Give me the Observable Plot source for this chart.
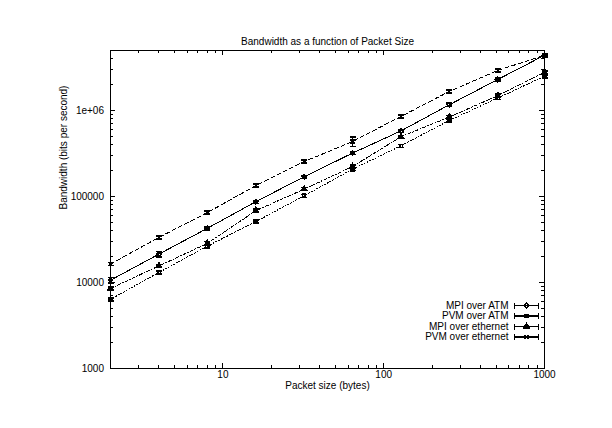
<!DOCTYPE html>
<html><head><meta charset="utf-8">
<script src="https://cdn.jsdelivr.net/npm/d3@7"></script>
<script src="https://cdn.jsdelivr.net/npm/@observablehq/plot@0.6"></script>
<style>body{margin:0;background:#fff} svg{shape-rendering:crispEdges}</style>
</head><body><div id="chart"></div>
<script>
// ---- data ----
const sizes = [2, 4, 8, 16, 32, 64, 128, 256, 512, 1000];
const seriesNames = ["MPI over ATM", "PVM over ATM", "MPI over ethernet", "PVM over ethernet"];
const mpiAtm = [10650, 21400, 42700, 87000, 170000, 320000, 580000, 1170000, 2300000, 4400000];
const pvmAtm = [6380, 13100, 26500, 51000, 102000, 208000, 389000, 769000, 1400000, 2510000];
const mpiEth = [8510, 15600, 28500, 68500, 122000, 223000, 496000, 841000, 1490000, 2790000];
const pvmEth = [16400, 33500, 65000, 134000, 255000, 437000, 855000, 1670000, 2930000, 4400000];
// relative error (half-range) of each point
const mpiAtmErr = [0.07, 0.07, 0.04, 0.04, 0.04, 0.04, 0.04, 0.05, 0.04, 0.04];
const pvmAtmErr = [0.04, 0.04, 0.05, 0.04, 0.04, 0.04, 0.04, 0.04, 0.04, 0.04];
const mpiEthErr = [0.04, 0.04, 0.05, 0.04, 0.04, 0.04, 0.04, 0.04, 0.04, 0.04];
const pvmEthErr = [0.04, 0.04, 0.04, 0.04, 0.04, 0.13, 0.04, 0.04, 0.04, 0.04];
const xTickValues = [10, 100, 1000];
const xTickLabels = ["10", "100", "1000"];
const yTickValues = [1000, 10000, 100000, 1000000];
const yTickLabels = ["1000", "10000", "100000", "1e+06"];
const title = "Bandwidth as a function of Packet Size";
const xLabel = "Packet size (bytes)";
const yLabel = "Bandwidth (bits per second)";

// ---- build table ----
const values = [mpiAtm, pvmAtm, mpiEth, pvmEth];
const errs = [mpiAtmErr, pvmAtmErr, mpiEthErr, pvmEthErr];
const rows = [];
seriesNames.forEach((s, i) => sizes.forEach((x, j) => {
  const v = values[i][j], e = errs[i][j];
  rows.push({series: s, size: x, bw: v, lo: v * (1 - e), hi: v * (1 + e)});
}));

// ---- layout / style ----
const W = 612, H = 428, mL = 110, mR = 68, mT = 50, mB = 60;
const fw = W - mL - mR, fh = H - mT - mB;
const majorLen = 5, minorLen = 3;
const dashes = [null, "1,2", "3,2,1,2", "4,3"];
const symbols = ["diamond2", "square2", "triangle", "times"];
const filled = [false, false, true, false];

const xMinor = [];
for (const d of [1, 10, 100]) for (let k = 2; k <= 9; k++) { const v = k * d; if (v > 2 && v < 1000 && !xTickValues.includes(v)) xMinor.push(v); }
const yMinor = [];
for (const d of [1e3, 1e4, 1e5, 1e6]) for (let k = 2; k <= 9; k++) { const v = k * d; if (v < 5e6) yMinor.push(v); }

const capSym = {draw(ctx) { ctx.moveTo(-3, 0); ctx.lineTo(3, 0); }};
const sampleSym = {draw(ctx) {
  ctx.moveTo(-12, 0); ctx.lineTo(12, 0);
  ctx.moveTo(-12, -3); ctx.lineTo(-12, 3);
  ctx.moveTo(12, -3); ctx.lineTo(12, 3);
}};

const marks = [Plot.frame({stroke: "black"})];
// inward ticks on all four sides
for (const [vals, len] of [[xTickValues, majorLen], [xMinor, minorLen]]) {
  marks.push(Plot.tickX(vals, {x: d => d, insetTop: fh - len, stroke: "black"}));
  marks.push(Plot.tickX(vals, {x: d => d, insetBottom: fh - len, stroke: "black"}));
}
for (const [vals, len] of [[yTickValues, majorLen], [yMinor, minorLen]]) {
  marks.push(Plot.tickY(vals, {y: d => d, insetRight: fw - len, stroke: "black"}));
  marks.push(Plot.tickY(vals, {y: d => d, insetLeft: fw - len, stroke: "black"}));
}
seriesNames.forEach((s, i) => {
  const data = rows.filter(r => r.series === s);
  marks.push(Plot.line(data, {x: "size", y: "bw", stroke: "black", strokeWidth: 1, strokeDasharray: dashes[i] || undefined}));
  marks.push(Plot.ruleX(data, {x: "size", y1: "lo", y2: "hi", stroke: "black"}));
  marks.push(Plot.dot(data, {x: "size", y: "lo", symbol: capSym, stroke: "black", fill: "none"}));
  marks.push(Plot.dot(data, {x: "size", y: "hi", symbol: capSym, stroke: "black", fill: "none"}));
  marks.push(Plot.dot(data, {x: "size", y: "bw", symbol: symbols[i], r: 2, stroke: "black", fill: filled[i] ? "black" : "none"}));
  // legend
  const dy = -(368 - (305 + 10.5 * i));
  marks.push(Plot.text([s], {text: d => d, frameAnchor: "bottom-right", textAnchor: "end", lineAnchor: "middle", dx: -36, dy, fill: "black"}));
  marks.push(Plot.dot([s], {frameAnchor: "bottom-right", dx: -18, dy, symbol: sampleSym, stroke: "black", fill: "none"}));
  marks.push(Plot.dot([s], {frameAnchor: "bottom-right", dx: -18, dy, symbol: symbols[i], r: 2, stroke: "black", fill: filled[i] ? "black" : "none"}));
});
marks.push(Plot.text([title], {text: d => d, frameAnchor: "top", lineAnchor: "bottom", dy: -6, fill: "black"}));
marks.push(Plot.text([xLabel], {text: d => d, frameAnchor: "bottom", lineAnchor: "bottom", dy: 20, fill: "black"}));
marks.push(Plot.text([yLabel], {text: d => d, frameAnchor: "left", lineAnchor: "bottom", rotate: -90, dx: -44, fill: "black"}));

const chart = Plot.plot({
  width: W, height: H,
  marginLeft: mL, marginRight: mR, marginTop: mT, marginBottom: mB,
  style: {fontFamily: "'Liberation Sans', Arial, sans-serif", fontSize: "10px", background: "white", color: "black"},
  x: {type: "log", domain: [2, 1000], ticks: xTickValues, tickFormat: d => xTickLabels[xTickValues.indexOf(d)] ?? "", tickSize: 0, tickPadding: 2.5, label: null},
  y: {type: "log", domain: [1000, 5e6], ticks: yTickValues, tickFormat: d => yTickLabels[yTickValues.indexOf(d)] ?? "", tickSize: 0, tickPadding: 6.5, label: null},
  marks
});
document.getElementById("chart").appendChild(chart);
</script>
</body></html>
